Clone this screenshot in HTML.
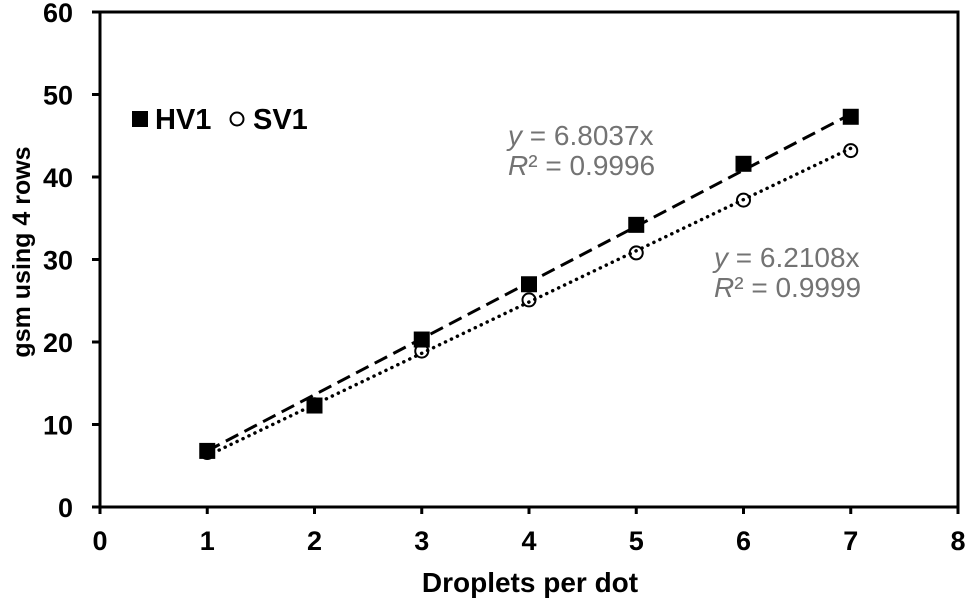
<!DOCTYPE html>
<html><head><meta charset="utf-8"><style>
body{margin:0;background:#fff}
svg text{font-family:"Liberation Sans",Arial,sans-serif}
</style></head><body>
<svg id="chart" width="966" height="598" xmlns="http://www.w3.org/2000/svg">
<g id="g"></g>
</svg>
<script>
const xVals=[1,2,3,4,5,6,7];
const hv1=[6.8,12.3,20.3,27.0,34.2,41.6,47.3];
const sv1=[6.6,12.4,18.9,25.1,30.8,37.2,43.2];
const hvSlope=6.8037, svSlope=6.2108;
const xTicks=[0,1,2,3,4,5,6,7,8];
const yTicks=[0,10,20,30,40,50,60];
const L=100,R=958,T=12,B=507;
const X=v=>L+(v-0)/8*(R-L);
const Y=v=>B-(v/60)*(B-T);
const g=document.getElementById('g');
const NS='http://www.w3.org/2000/svg';
function mk(t,a,p){const e=document.createElementNS(NS,t);for(const k in a)e.setAttribute(k,a[k]);(p||g).appendChild(e);return e;}
let e;
e=mk('rect',{x:L,y:T,width:R-L,height:B-T,fill:'none',stroke:'#000','stroke-width':3});


xTicks.forEach(t=>{
 e=mk('line',{x1:X(t),x2:X(t),y1:B,y2:B+7,stroke:'#000','stroke-width':3});
 
 
 e=mk('text',{x:X(t),y:B+43,'text-anchor':'middle','font-size':27,'font-weight':'bold'});e.textContent=t;
 
 
});
yTicks.forEach(t=>{
 e=mk('line',{x1:L-8,x2:L,y1:Y(t),y2:Y(t),stroke:'#000','stroke-width':3});
 
 
 e=mk('text',{x:L-27,y:Y(t)+10,'text-anchor':'end','font-size':27,'font-weight':'bold'});e.textContent=t;
 
 
});
e=mk('text',{x:530,y:592,'text-anchor':'middle','font-size':28,'font-weight':'bold'});e.textContent='Droplets per dot';


e=mk('text',{x:0,y:0,'text-anchor':'middle','font-size':25,'font-weight':'bold',transform:'translate(30,252) rotate(-90)'});e.textContent='gsm using 4 rows';


xVals.forEach((x,i)=>{
 e=mk('circle',{cx:X(x),cy:Y(sv1[i]),r:6.5,fill:'#fff',stroke:'#000','stroke-width':2});
 
 
 e=mk('rect',{x:X(x)-8,y:Y(hv1[i])-8,width:16,height:16,fill:'#000'});
 
 
});
e=mk('line',{x1:X(1),y1:Y(hvSlope),x2:X(7),y2:Y(hvSlope*7),stroke:'#000','stroke-width':3,'stroke-dasharray':'14,7'});


e=mk('line',{x1:X(1),y1:Y(svSlope),x2:X(7),y2:Y(svSlope*7),stroke:'#000','stroke-width':3.5,'stroke-dasharray':'0.1,6.5','stroke-linecap':'round'});


e=mk('rect',{x:132,y:111,width:16,height:16,fill:'#000'});


e=mk('text',{x:155,y:129,'font-size':29,'font-weight':'bold'});e.textContent='HV1';


e=mk('circle',{cx:237,cy:119,r:6.5,fill:'#fff',stroke:'#000','stroke-width':2});


e=mk('text',{x:253,y:129,'font-size':29,'font-weight':'bold'});e.textContent='SV1';


function eq(x,y,slope,r2,name){
 let t=mk('text',{x:x,y:y,'font-size':28,fill:'#737373'});
 t.innerHTML='<tspan font-style="italic">y</tspan> = '+slope+'x';
 
 
 t=mk('text',{x:x,y:y+30,'font-size':28,fill:'#737373'});
 t.innerHTML='<tspan font-style="italic">R</tspan>² = '+r2;
 
 
}
eq(508,145,'6.8037','0.9996','hv1');
eq(714,267,'6.2108','0.9999','sv1');
</script>
</body></html>
